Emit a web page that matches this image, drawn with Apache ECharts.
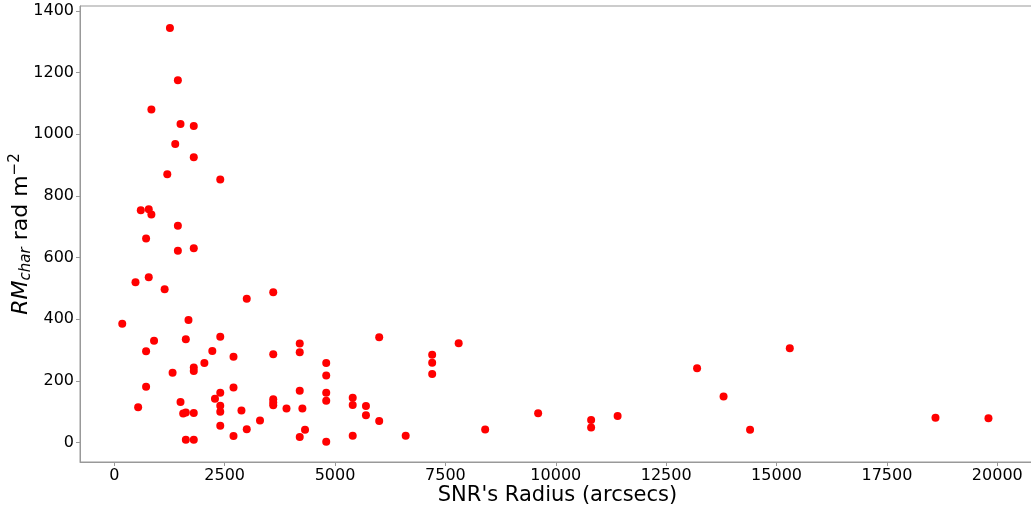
<!DOCTYPE html>
<html>
<head>
<meta charset="utf-8">
<script src="https://cdn.jsdelivr.net/npm/echarts@6/dist/echarts.min.js"></script>
<style>
html,body{margin:0;padding:0;background:#fff;}
#chart{width:1031px;height:507px;}
</style>
</head>
<body>
<div id="chart"></div>
<script>
// SNR radius (arcsec)
var radius = [1260,1440,840,1500,1800,1380,1800,1200,2400,600,780,840,1440,720,1440,1800,480,780,1140,3000,
  3600,180,1680,900,1620,2400,720,2220,2700,3600,2040,1800,1800,1320,720,2700,2400,2280,540,1500,
  2400,2400,2880,1560,1620,1800,3300,2400,3000,2700,1620,1800,3600,3600,3600,6000,4200,4200,4800,4800,
  4200,4800,4800,3900,4260,5400,5400,5700,5700,6000,4200,4320,5400,4800,7800,7200,7200,7200,6600,8400,
  9600,10800,10800,11400,13200,13800,14400,15300,18600,19800];
// characteristic RM (rad m^-2)
var rmChar = [1345,1175,1080,1033,1027,968,925,870,853,753,757,740,703,662,622,630,520,536,497,466,
  487,385,397,330,335,343,296,297,278,286,258,243,232,226,181,178,161,142,114,131,
  119,100,104,94,97,96,71,54,43,21,9,9,140,130,121,341,321,293,258,217,
  168,161,135,110,110,145,122,118,88,70,18,41,22,2,322,285,259,222,22,42,
  95,73,49,86,241,149,41,306,80,79];
var xTicks = [0,2500,5000,7500,10000,12500,15000,17500,20000];
var yTicks = [0,200,400,600,800,1000,1200,1400];

var points = radius.map(function(r,i){return [r, rmChar[i]];});
var chart = echarts.init(document.getElementById('chart'), null, {renderer:'canvas'});
var axisColor = '#999999';
var font = 'DejaVu Sans';
function plain(v){return String(v);}
chart.setOption({
  animation:false,
  backgroundColor:'#ffffff',
  grid:{left:80, right:-4, top:6, bottom:45, show:true, borderColor:axisColor, borderWidth:1,
        containLabel:false, outerBoundsMode:'none'},
  xAxis:{
    type:'value', min:-777, max:20854,
    axisLine:{show:true, onZero:false, lineStyle:{color:axisColor, width:1}},
    axisTick:{show:true, length:4, customValues:xTicks, lineStyle:{color:axisColor}},
    axisLabel:{show:true, customValues:xTicks, formatter:plain, margin:6, color:'#000', fontFamily:font, fontSize:16},
    splitLine:{show:false},
    name:"SNR's Radius (arcsecs)", nameLocation:'middle', nameGap:23, nameMoveOverlap:false,
    nameTextStyle:{color:'#000', fontFamily:font, fontSize:21}
  },
  yAxis:{
    type:'value', min:-63.3, max:1416,
    axisLine:{show:true, onZero:false, lineStyle:{color:axisColor, width:1}},
    axisTick:{show:true, length:4, customValues:yTicks, lineStyle:{color:axisColor}},
    axisLabel:{show:true, customValues:yTicks, formatter:plain, margin:6, color:'#000', fontFamily:font, fontSize:16},
    splitLine:{show:false},
    name:'{i|RM}{sub|char}{n| rad m}{sup|−2}', nameLocation:'middle', nameGap:44, nameMoveOverlap:false,
    nameTextStyle:{
      color:'#000', fontFamily:font, fontSize:22,
      rich:{
        i:{fontFamily:font, fontStyle:'italic', fontSize:22, color:'#000', lineHeight:30},
        sub:{fontFamily:font, fontStyle:'italic', fontSize:15, color:'#000', lineHeight:30, padding:[10,0,0,0]},
        n:{fontFamily:font, fontSize:22, color:'#000', lineHeight:30},
        sup:{fontFamily:font, fontSize:15, color:'#000', lineHeight:30, padding:[0,0,12,0]}
      }
    }
  },
  series:[{
    type:'scatter', data:points, symbol:'circle', symbolSize:8,
    itemStyle:{color:'#ff0000', opacity:1}
  }]
});
</script>
</body>
</html>
